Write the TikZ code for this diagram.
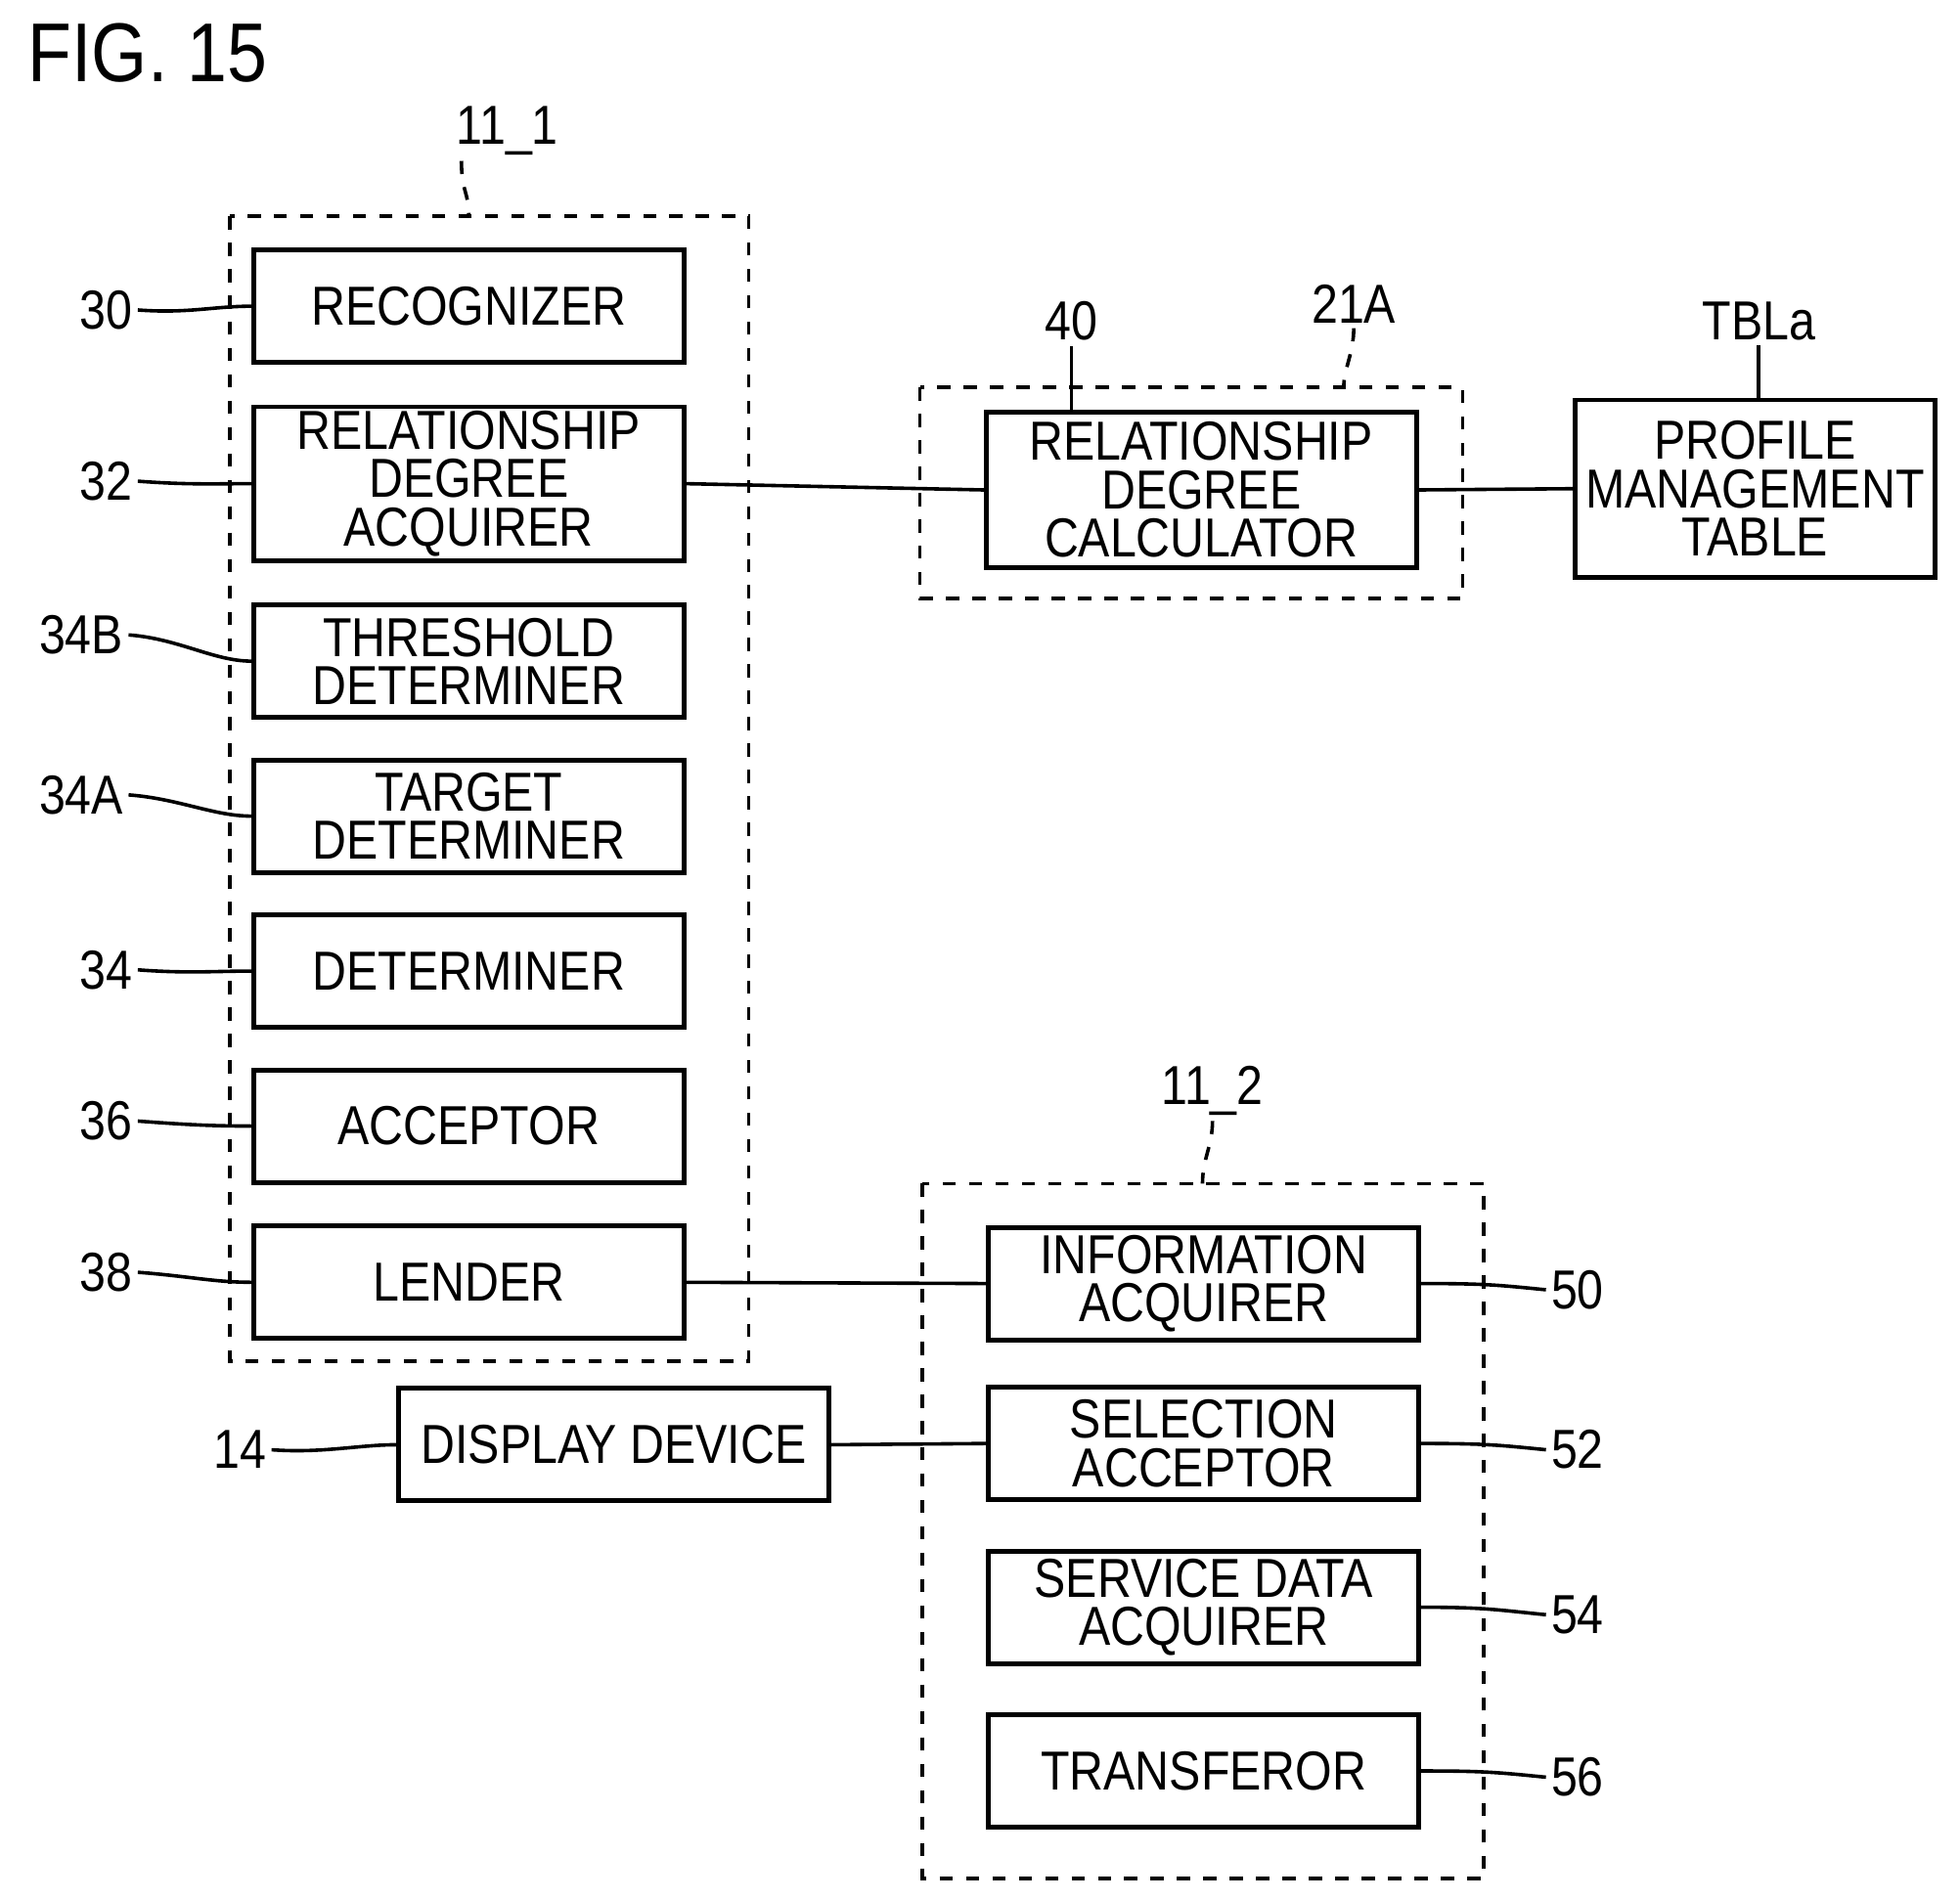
\documentclass[tikz,border=0pt]{standalone}
\usepackage{fontspec}
\setmainfont{Liberation Sans}[FakeStretch=0.86]
\begin{document}
\begin{tikzpicture}[x=0.01cm,y=-0.01cm,
  box/.style={draw,line width=1.1pt,align=center,inner sep=0pt,font=\fontsize{12.5}{11}\selectfont},
  grp/.style={draw,dashed,line width=0.8pt},
  lab/.style={font=\fontsize{12.5}{14}\selectfont,inner sep=1pt},
  ln/.style={line width=0.8pt}]
\useasboundingbox (0,0) rectangle (1568,1520);
\node[font=\fontsize{19}{22}\selectfont,anchor=west] (fig) at (10,42) {FIG. 15};
% groups
\draw[grp] (184,173) rectangle (599,1089);
\draw[grp] (736,310) rectangle (1170,479);
\draw[grp] (738,947) rectangle (1187,1503);
\coordinate (g1) at (375,173);
\coordinate (g2) at (1075,310);
\coordinate (g3) at (962,947);
% left boxes
\newcommand{\bx}[5]{\node[box,minimum width=344*0.01cm,minimum height=#4*0.01cm] (#1) at (#2,#3) {#5};}
\bx{rec}{375}{245}{90}{RECOGNIZER}
\bx{rda}{375}{387}{123}{RELATIONSHIP\\DEGREE\\ACQUIRER}
\bx{thr}{375}{529}{90}{THRESHOLD\\DETERMINER}
\bx{tar}{375}{653}{90}{TARGET\\DETERMINER}
\bx{det}{375}{777}{90}{DETERMINER}
\bx{acc}{375}{901}{90}{ACCEPTOR}
\bx{len}{375}{1026}{90}{LENDER}
\bx{calc}{961}{392}{125}{RELATIONSHIP\\DEGREE\\CALCULATOR}
\node[box,minimum width=288*0.01cm,minimum height=142*0.01cm] (prof) at (1404,391) {PROFILE\\MANAGEMENT\\TABLE};
\bx{info}{963}{1027}{90}{INFORMATION\\ACQUIRER}
\bx{sel}{963}{1155}{90}{SELECTION\\ACCEPTOR}
\bx{serv}{963}{1286}{90}{SERVICE DATA\\ACQUIRER}
\bx{trans}{963}{1417}{90}{TRANSFEROR}
\bx{disp}{491}{1156}{90}{DISPLAY DEVICE}
% labels
\node[lab] (l30) at (85,248) {30};
\node[lab] (l32) at (85,385) {32};
\node[lab] (l34B) at (65,508) {34B};
\node[lab] (l34A) at (65,636) {34A};
\node[lab] (l34) at (85,776) {34};
\node[lab] (l36) at (85,897) {36};
\node[lab] (l38) at (85,1018) {38};
\node[lab] (l14) at (192,1160) {14};
\node[lab] (l50) at (1262,1032) {50};
\node[lab] (l52) at (1262,1160) {52};
\node[lab] (l54) at (1262,1292) {54};
\node[lab] (l56) at (1262,1422) {56};
\node[lab] (l40) at (857,257) {40};
\node[lab] (l21) at (1083,243) {21A};
\node[lab] (lT) at (1407,257) {TBLa};
\node[lab] (l111) at (406,105) {11\_1};
\node[lab] (l112) at (970,873) {11\_2};
% leaders
\foreach \a/\b in {l30/rec,l32/rda,l34B/thr,l34A/tar,l34/det,l36/acc,l38/len,l14/disp}
  \draw[ln] (\a.east) .. controls +(40,3) and +(-30,0) .. (\b.west);
\foreach \a/\b in {l50/info,l52/sel,l54/serv,l56/trans}
  \draw[ln] (\b.east) .. controls +(50,0) and +(-40,-4) .. (\a.west);
\draw[ln] (l40.south) .. controls +(0,15) and +(0,-15) .. (calc.north -| l40.south);
\draw[ln] (lT.south) .. controls +(0,15) and +(0,-15) .. (prof.north -| lT.south);
\draw[ln,dashed] (l111.south west) ++(8,0) .. controls +(0,25) and +(0,-20) .. (g1);
\draw[ln,dashed] (l21.south) .. controls +(0,20) and +(0,-15) .. (g2);
\draw[ln,dashed] (l112.south) .. controls +(0,20) and +(0,-20) .. (g3);
% connectors
\draw[ln] (rda.east) -- (calc.west);
\draw[ln] (calc.east) -- (prof.west);
\draw[ln] (len.east) -- (info.west);
\draw[ln] (disp.east) -- (sel.west);
\end{tikzpicture}
\end{document}
